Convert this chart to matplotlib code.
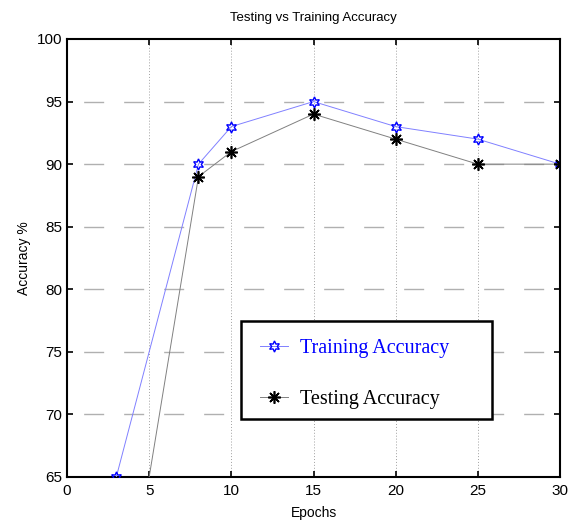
import matplotlib
matplotlib.use("Agg")
import matplotlib.pyplot as plt
from matplotlib.patches import Rectangle

epochs_train = [3, 8, 10, 15, 20, 25, 30]
train_acc = [65, 90, 93, 95, 93, 92, 90]
epochs_test = [3, 8, 10, 15, 20, 25, 30]
test_acc = [49, 89, 91, 94, 92, 90, 90]
xticks = [0, 5, 10, 15, 20, 25, 30]
yticks = [65, 70, 75, 80, 85, 90, 95, 100]

plt.rcParams['font.family'] = ['Liberation Sans', 'DejaVu Sans']

fig = plt.figure(figsize=(5.74, 5.23), dpi=100)
ax = fig.add_axes([67/574, 1-477/523, (560-67)/574, (477-39)/523])

ax.plot(epochs_train, train_acc, color='#8080ff', lw=0.7, marker=(6, 1, 0),
        markersize=8, markerfacecolor='none', markeredgecolor='blue',
        markeredgewidth=1.0, label='Training Accuracy', zorder=3)
ax.plot(epochs_test, test_acc, color='#808080', lw=0.7, marker=(8, 2, 0),
        markersize=9, markeredgecolor='black', markeredgewidth=1.2,
        label='Testing Accuracy', zorder=3)

ax.set_xlim(0, 30)
ax.set_ylim(65, 100)
ax.set_xticks(xticks)
ax.set_yticks(yticks)
for x in xticks[1:-1]:
    ax.axvline(x, color='#a0a0a0', lw=0.7, ls=(0, (1, 2)), zorder=1)
for y in yticks[1:-1]:
    ax.axhline(y, color='#b0b0b0', lw=1.0, ls=(-12, (14.4, 14.4)), zorder=1)

ax.tick_params(direction='in', top=True, right=True, labelsize=11, length=4, width=1.2)
ax.tick_params(axis='x', pad=5)
for s in ax.spines.values():
    s.set_linewidth(1.5)

ax.set_title('Testing vs Training Accuracy', fontsize=9.5, pad=13)
ax.set_xlabel('Epochs', fontsize=10, labelpad=6)
ax.set_ylabel('Accuracy %', fontsize=10)

# legend box
bx0 = (241-67)/493
bx1 = (492-67)/493
by0 = (477-419)/438
by1 = (477-321)/438
rect = Rectangle((bx0, by0), bx1-bx0, by1-by0, transform=ax.transAxes,
                 facecolor='white', edgecolor='black', lw=1.8, zorder=5)
ax.add_patch(rect)
leg = ax.legend(loc='upper left', bbox_to_anchor=(bx0 + 7/493, by1 - 6/438), frameon=False,
                prop={'family': 'Liberation Serif', 'size': 14.5},
                handlelength=1.4, borderpad=0.6, borderaxespad=0,
                labelspacing=1.58, handletextpad=0.6)
leg.set_zorder(6)
leg.get_texts()[0].set_color('blue')

fig.savefig('out.png', dpi=100)
